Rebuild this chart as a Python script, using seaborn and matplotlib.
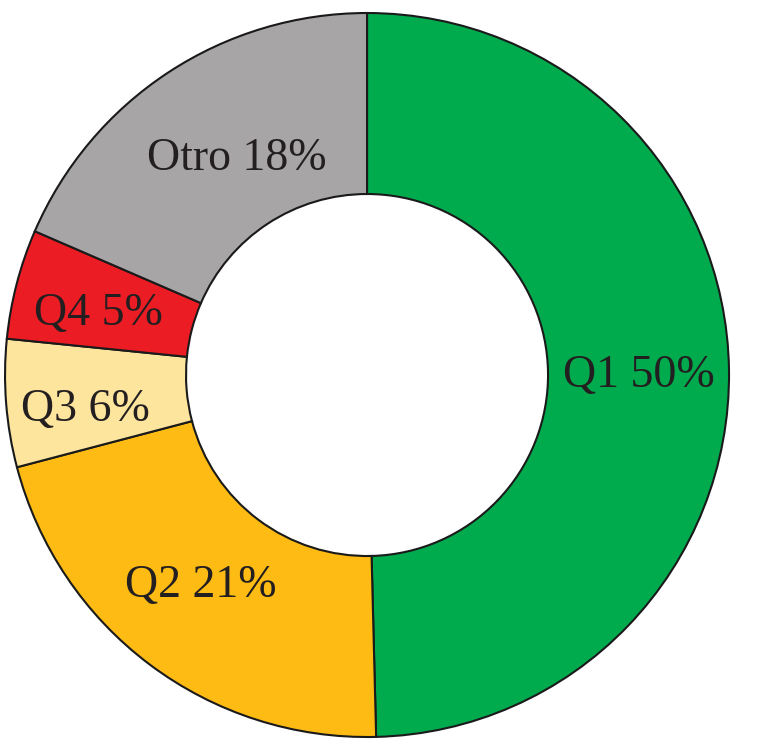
import matplotlib.pyplot as plt
import seaborn as sns

categories = ["Q1", "Q2", "Q3", "Q4", "Otro"]
shares = [49.6, 21.3, 5.7, 4.9, 18.5]
pct_labels = ["50%", "21%", "6%", "5%", "18%"]
colors = ["#00AB4E", "#FDBB13", "#FEE59E", "#EC1C24", "#A7A5A6"]


def main():
    sns.set_theme(style="white")
    plt.rcParams["font.family"] = ["Liberation Serif", "DejaVu Serif"]

    fig = plt.figure(figsize=(7.74, 7.56), dpi=100)
    ax = fig.add_axes([0.0065, 0.0251, 0.9354, 0.9577])

    labels = [f"{c} {p}" for c, p in zip(categories, pct_labels)]

    wedges, texts = ax.pie(
        shares,
        labels=labels,
        colors=colors,
        startangle=90,
        counterclock=False,
        labeldistance=0.75,
        wedgeprops=dict(width=0.5, edgecolor="#1a1a1a", linewidth=1.5),
        textprops=dict(fontsize=33, color="#231F20"),
    )

    # small hand nudges so the labels sit where the original has them
    nudges = [(0.0, -0.011), (-0.008, 0.019), (-0.030, -0.036),
              (-0.017, -0.019), (0.052, -0.030)]
    for t, (dx, dy) in zip(texts, nudges):
        x, y = t.get_position()
        t.set_position((x + dx, y + dy))
        t.set_horizontalalignment("center")
        t.set_verticalalignment("center")

    ax.set_xlim(-1.0, 1.0)
    ax.set_ylim(-1.0, 1.0)
    ax.set_aspect("equal")
    ax.axis("off")

    fig.savefig("out.png", dpi=100, facecolor="white")


if __name__ == "__main__":
    main()
